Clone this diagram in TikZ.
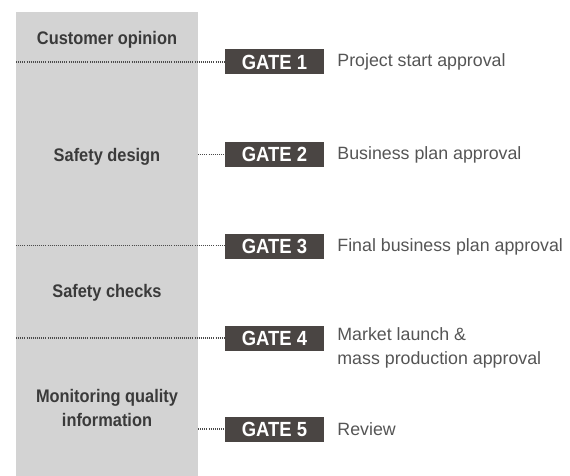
\documentclass[tikz,border=0pt]{standalone}
\usepackage{fontspec}
\setmainfont{Liberation Sans}
\newfontfamily\gatefont[FakeStretch=0.9]{Liberation Sans}
\newfontfamily\phasefont[FakeStretch=0.9]{Liberation Sans}
\usepackage{xcolor}
\usepackage{tikz}
\usetikzlibrary{positioning, calc}

\definecolor{gatefill}{HTML}{4A4543}
\definecolor{colfill}{HTML}{D3D3D3}
\definecolor{phasetext}{HTML}{3A3A3A}
\definecolor{desctext}{HTML}{555555}
\definecolor{dotline}{HTML}{4A4A4A}

\begin{document}
\begin{tikzpicture}[
  x=1pt, y=-1pt,
  gatenode/.style  = {fill=gatefill, text=white, inner sep=0pt,
                      minimum width=99pt, minimum height=25pt,
                      font=\gatefont\fontsize{20.5}{22}\selectfont\bfseries},
  phasenode/.style = {text=phasetext, align=center, inner sep=0pt,
                      font=\phasefont\fontsize{18.2}{24}\selectfont\bfseries},
  descnode/.style  = {text=desctext, align=left, inner sep=0pt,
                      font=\fontsize{17.8}{24}\selectfont},
  dotted line/.style = {dotline, line width=1.1pt,
                        dash pattern=on 1pt off 1.1pt},
]
\useasboundingbox (0,0) rectangle (570,476);

%% ── Phase column ──────────────────────────────────────────────────
\fill[colfill] (16,12) rectangle (198,476);
\coordinate (colL) at (16,0);
\coordinate (colR) at (198,0);

\node[phasenode] (cust)  at (107,40)  {Customer opinion};
\node[phasenode] (sdes)  at (107,157) {Safety design};
\node[phasenode] (schk)  at (107,293) {Safety checks};
\node[phasenode] (mon)   at (107,408) {Monitoring quality\\information};

%% ── Gates ─────────────────────────────────────────────────────────
\node[gatenode] (gate1) at (274.5,62)    {GATE 1};
\node[gatenode] (gate2) at (274.5,154.5) {GATE 2};
\node[gatenode] (gate3) at (274.5,246.7) {GATE 3};
\node[gatenode] (gate4) at (274.5,338)   {GATE 4};
\node[gatenode] (gate5) at (274.5,429)   {GATE 5};

%% ── Approvals ─────────────────────────────────────────────────────
\node[descnode, right=13pt of gate1] (desc1) {Project start approval};
\node[descnode, right=13pt of gate2] (desc2) {Business plan approval};
\node[descnode, right=13pt of gate3] (desc3) {Final business plan approval};
\node[descnode, anchor=north west] (desc4)
  at ([xshift=13pt, yshift=-2pt]gate4.north east)
  {Market launch \&\\mass production approval};
\node[descnode, right=13pt of gate5] (desc5) {Review};

%% ── Dotted leaders ────────────────────────────────────────────────
\draw[dotted line] (colL |- gate1) -- (gate1.west);
\draw[dotted line] (colR |- gate2) -- (gate2.west);
\draw[dotted line] ([yshift=1pt]colL |- gate3) -- ([yshift=1pt]gate3.west);
\draw[dotted line] (colL |- gate4) -- (gate4.west);
\draw[dotted line] (colR |- gate5) -- (gate5.west);

\end{tikzpicture}
\end{document}
